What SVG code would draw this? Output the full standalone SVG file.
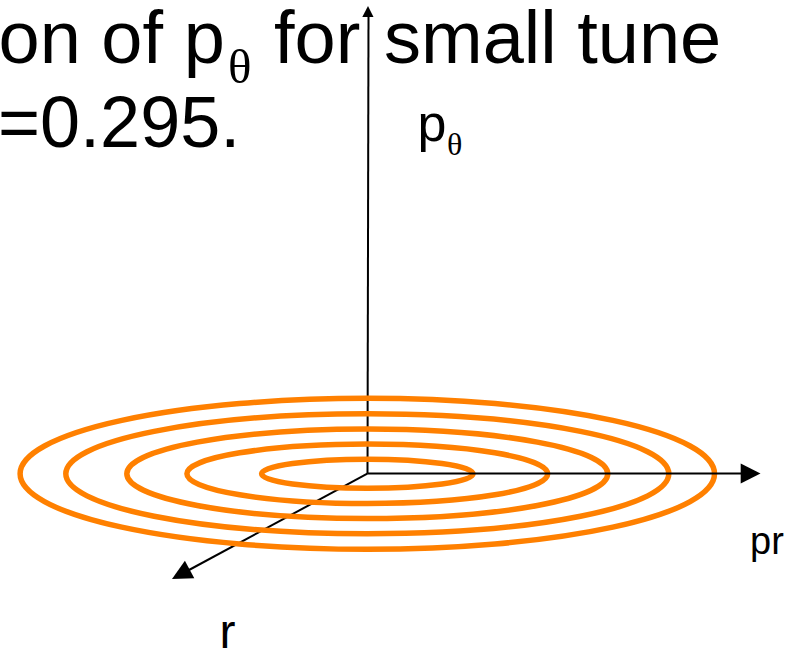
<svg xmlns="http://www.w3.org/2000/svg" width="804" height="652" viewBox="0 0 804 652">
  <style>
    .t { font-family: "Liberation Sans", Arial, sans-serif; fill: #000; }
    .g { font-family: "Liberation Serif", "Times New Roman", serif; fill: #000; }
    .axis { stroke: #000; stroke-width: 2; fill: none; }
    .orbit { stroke: #FF8000; stroke-width: 5.5; fill: none; }
    .head { fill: #000; stroke: none; }
  </style>
  <rect width="804" height="652" fill="#fff"/>

  <g id="title">
    <text class="t" x="-1.5" y="63" font-size="74">on of p</text>
    <text class="g" x="228" y="82.5" font-size="49">θ</text>
    <text class="t" x="274" y="63" font-size="74">for</text>
    <text class="t" x="384" y="63" font-size="74">small tune</text>
    <text class="t" x="-2" y="147" font-size="72">=0.295.</text>
  </g>

  <g id="connectors">
    <g id="axis-ptheta">
      <line class="axis" x1="367.5" y1="473.7" x2="368.5" y2="15"/>
      <polygon class="head" points="368,6 362.3,17 373.5,17"/>
    </g>
    <g id="axis-r">
      <line class="axis" x1="367.3" y1="473.7" x2="189" y2="570"/>
      <polygon class="head" points="172,579 184.9,560.7 194.3,578.3"/>
    </g>
  </g>

  <g id="orbits">
    <ellipse class="orbit" cx="367.3" cy="473.8" rx="105.7" ry="14.5"/>
    <ellipse class="orbit" cx="367.3" cy="473.8" rx="180.4" ry="29.7"/>
    <ellipse class="orbit" cx="367.3" cy="473.8" rx="240.5" ry="44.8"/>
    <ellipse class="orbit" cx="367.3" cy="473.8" rx="301.5" ry="60"/>
    <ellipse class="orbit" cx="367.3" cy="473.8" rx="347.2" ry="75.5"/>
  </g>

  <g id="connectors-front">
    <g id="axis-pr">
      <line class="axis" x1="367.3" y1="473.5" x2="742" y2="473.5"/>
      <polygon class="head" points="740.7,463.5 760.5,473.5 740.7,483.5"/>
    </g>
  </g>

  <g id="label-ptheta">
    <text class="t" x="417.5" y="140.6" font-size="52">p</text>
    <text class="g" x="447" y="154.5" font-size="32">θ</text>
  </g>
  <g id="label-pr">
    <text class="t" x="750" y="553.5" font-size="38">pr</text>
  </g>
  <g id="label-r">
    <text class="t" x="219.5" y="648.4" font-size="48">r</text>
  </g>
</svg>
